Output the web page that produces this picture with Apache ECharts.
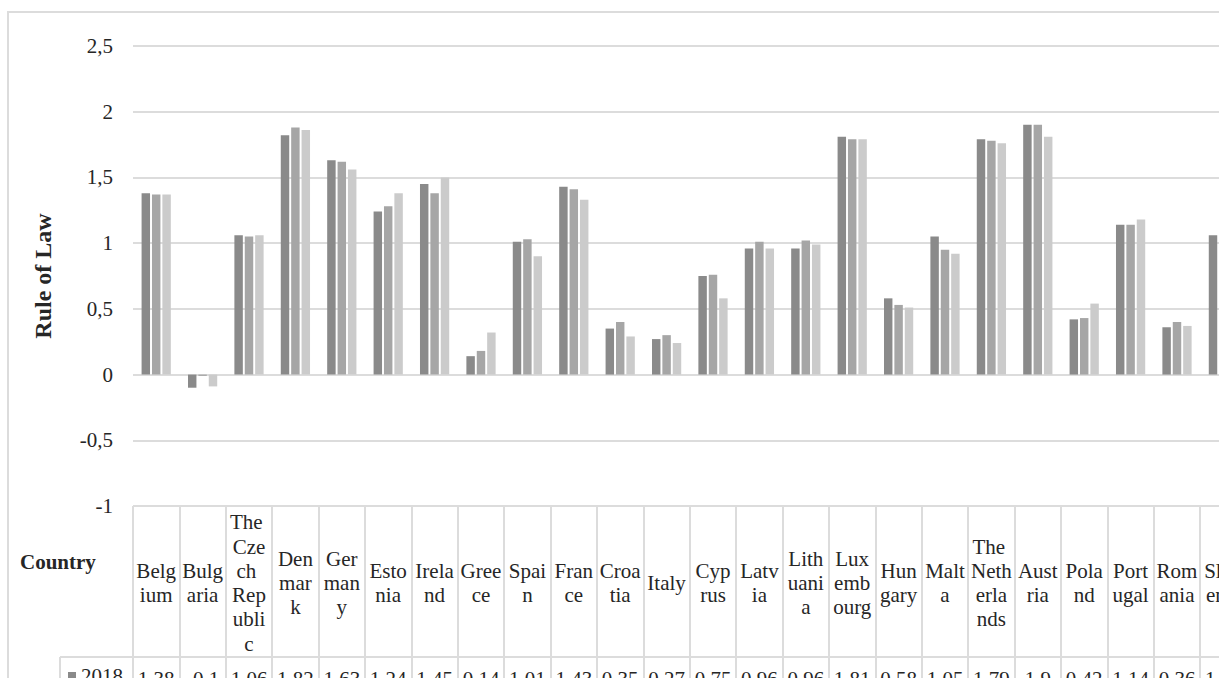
<!DOCTYPE html>
<html>
<head>
<meta charset="utf-8">
<title>Rule of Law by country, 2018–2020</title>
<script src="https://cdn.jsdelivr.net/npm/echarts@6/dist/echarts.min.js"></script>
<style>
  html, body { margin: 0; padding: 0; overflow: hidden; background: #ffffff; }
  #chart { width: 1300px; height: 800px; }
</style>
</head>
<body>
<div id="chart"></div>
<script>
// Countries shown along the category axis (and as data-table headers)
const countries = [
  'Belgium', 'Bulgaria', 'The Czech Republic', 'Denmark', 'Germany', 'Estonia',
  'Ireland', 'Greece', 'Spain', 'France', 'Croatia', 'Italy', 'Cyprus', 'Latvia',
  'Lithuania', 'Luxembourg', 'Hungary', 'Malta', 'The Netherlands', 'Austria',
  'Poland', 'Portugal', 'Romania', 'Slovenia'
];

// Rule of Law scores per year
const years = ['2018', '2019', '2020'];
const rol2018 = [1.38, -0.1, 1.06, 1.82, 1.63, 1.24, 1.45, 0.14, 1.01, 1.43, 0.35, 0.27,
                 0.75, 0.96, 0.96, 1.81, 0.58, 1.05, 1.79, 1.9, 0.42, 1.14, 0.36, 1.06];
const rol2019 = [1.37, -0.01, 1.05, 1.88, 1.62, 1.28, 1.38, 0.18, 1.03, 1.41, 0.40, 0.30,
                 0.76, 1.01, 1.02, 1.79, 0.53, 0.95, 1.78, 1.90, 0.43, 1.14, 0.40, 1.06];
const rol2020 = [1.37, -0.09, 1.06, 1.86, 1.56, 1.38, 1.50, 0.32, 0.90, 1.33, 0.29, 0.24,
                 0.58, 0.96, 0.99, 1.79, 0.51, 0.92, 1.76, 1.81, 0.54, 1.18, 0.37, 1.03];

// Value axis ticks
const yMin = -1, yMax = 2.5, yStep = 0.5;

const seriesValues = [rol2018, rol2019, rol2020];
const barColors = ['#8a8a8a', '#a6a6a6', '#cbcbcb'];

const FONT = '"Liberation Serif", "Times New Roman", serif';
const TEXT = '#262626';
const RULE = '#dcdcdc';

// Layout of the plot / data table
const plotLeft = 133, plotTop = 46, plotBottomY = 506;
const colWidth = 46.4;
const headerHeight = 151;   // header row of the data table
const rowHeight = 33;       // value rows of the data table
const tableHeight = 294;
const gridWidth = colWidth * countries.length;

const chart = echarts.init(document.getElementById('chart'), null, { renderer: 'svg' });

const option = {
  animation: false,
  backgroundColor: '#ffffff',
  textStyle: { fontFamily: FONT },
  grid: [
    // bar plot
    { left: plotLeft, top: plotTop, width: gridWidth, height: plotBottomY - plotTop },
    // data table below the plot (column rules only)
    { left: plotLeft, top: plotBottomY, width: gridWidth, height: tableHeight }
  ],
  legend: {
    data: years,
    orient: 'vertical',
    left: 68, top: 664,
    padding: 0,
    itemGap: rowHeight - 24,
    itemWidth: 8, itemHeight: 8,
    icon: 'rect',
    selectedMode: false,
    textStyle: { fontFamily: FONT, fontSize: 21, color: TEXT, lineHeight: 24 }
  },
  xAxis: [
    {
      // category axis whose labels form the header row of the data table
      type: 'category',
      gridIndex: 0,
      data: countries,
      position: 'bottom',
      boundaryGap: true,
      axisLine: { show: false },
      axisTick: { show: false },
      splitLine: { show: false },
      axisLabel: {
        interval: 0,
        margin: 77,
        width: 41.4,
        overflow: 'break',
        align: 'center',
        verticalAlign: 'middle',
        fontFamily: FONT,
        fontSize: 21,
        lineHeight: 24.3,
        color: TEXT
      }
    },
    {
      // first value row of the data table (2018)
      type: 'category',
      gridIndex: 0,
      data: countries,
      position: 'bottom',
      offset: headerHeight,
      boundaryGap: true,
      axisLine: { show: true, lineStyle: { color: RULE, width: 2 } },
      axisTick: { show: false },
      axisLabel: {
        interval: 0,
        margin: 22,
        align: 'center',
        verticalAlign: 'middle',
        fontFamily: FONT,
        fontSize: 21,
        color: TEXT,
        formatter: (val, idx) => String(rol2018[idx])
      }
    },
    {
      // column rules of the data table
      type: 'category',
      gridIndex: 1,
      data: countries,
      position: 'top',
      boundaryGap: true,
      axisLine: { show: false },
      axisTick: { show: false },
      axisLabel: { show: false },
      splitLine: { show: true, interval: 0, lineStyle: { color: RULE, width: 2 } }
    }
  ],
  yAxis: [
    {
      type: 'value',
      gridIndex: 0,
      min: yMin, max: yMax, interval: yStep,
      name: 'Rule of Law',
      nameLocation: 'middle',
      nameRotate: 90,
      nameGap: 78,
      nameTextStyle: { fontFamily: FONT, fontSize: 24, fontWeight: 'bold', color: TEXT },
      axisLine: { show: false },
      axisTick: { show: false },
      splitLine: { show: true, lineStyle: { color: RULE, width: 2 } },
      axisLabel: {
        margin: 20,
        fontFamily: FONT,
        fontSize: 21,
        color: TEXT,
        formatter: v => String(v).replace('.', ',')
      }
    },
    {
      type: 'value',
      gridIndex: 1,
      min: 0, max: 1,
      axisLine: { show: false },
      axisTick: { show: false },
      axisLabel: { show: false },
      splitLine: { show: false }
    }
  ],
  series: years.map((y, i) => ({
    name: y,
    type: 'bar',
    xAxisIndex: 0,
    yAxisIndex: 0,
    data: seriesValues[i],
    barGap: '23%',
    barCategoryGap: '37%',
    itemStyle: { color: barColors[i] },
    emphasis: { disabled: true }
  })),
  graphic: [
    // outer chart frame
    {
      type: 'rect', silent: true, z: -1,
      shape: { x: 8, y: 12, width: 1400, height: 900 },
      style: { fill: 'none', stroke: RULE, lineWidth: 2 }
    },
    // legend-key column of the data table
    {
      type: 'line', silent: true,
      shape: { x1: 60, y1: plotBottomY + headerHeight, x2: plotLeft, y2: plotBottomY + headerHeight },
      style: { stroke: RULE, lineWidth: 2 }
    },
    {
      type: 'line', silent: true,
      shape: { x1: 60, y1: plotBottomY + headerHeight, x2: 60, y2: 900 },
      style: { stroke: RULE, lineWidth: 2 }
    },
    // category axis title, placed beside the header row
    {
      type: 'text', silent: true,
      x: 20, y: 562,
      style: {
        text: 'Country',
        fontFamily: FONT, fontSize: 21, fontWeight: 'bold',
        fill: TEXT, verticalAlign: 'middle', align: 'left'
      }
    }
  ]
};

chart.setOption(option);
</script>
</body>
</html>
